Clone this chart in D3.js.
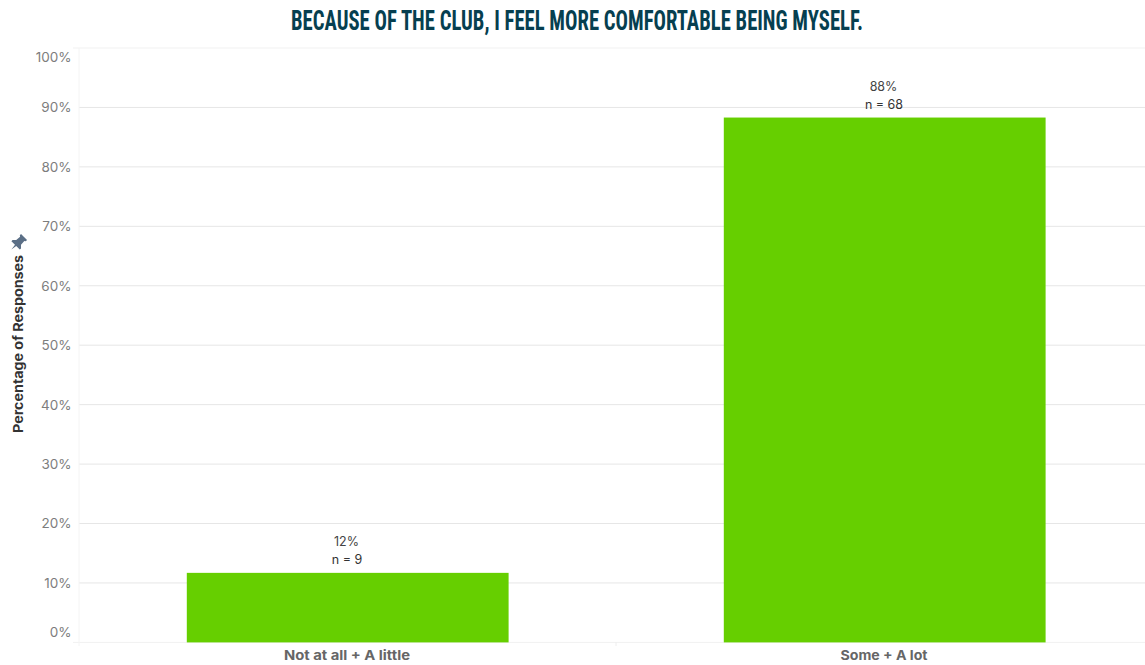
<!DOCTYPE html>
<html><head><meta charset="utf-8">
<script src="https://cdn.jsdelivr.net/npm/d3@7"></script>
<style>html,body{margin:0;padding:0;background:#fff;overflow:hidden}svg{display:block}</style>
</head><body><svg id="c" width="1145" height="665"></svg>
<script>
const titleText = "BECAUSE OF THE CLUB, I FEEL MORE COMFORTABLE BEING MYSELF.";
const axisTitle = "Percentage of Responses";
const categories = ["Not at all + A little", "Some + A lot"];
const percentValues = [11.7, 88.3];
const percentLabels = ["12%", "88%"];
const countLabels = ["n = 9", "n = 68"];
const yTicks = [0,10,20,30,40,50,60,70,80,90,100];

const svg = d3.select("#c");
const font = "Inter, Lato, sans-serif";
const x = d3.scaleBand().domain(categories).range([79,1153]).paddingInner(0.4).paddingOuter(0.2);
const y = d3.scaleLinear().domain([0,100]).range([642.4,48]);

svg.append("text").attr("x",577).attr("y",29.5).attr("text-anchor","middle")
  .attr("font-family","'Liberation Sans Narrow', 'Roboto Condensed', sans-serif").attr("font-weight",700)
  .attr("font-size",28).attr("fill","#063f50").attr("textLength",572).attr("lengthAdjust","spacingAndGlyphs").text(titleText);

svg.append("g").selectAll("line").data(yTicks).join("line")
  .attr("x1",d=>(d===0||d===100)?73:79).attr("x2",1145)
  .attr("y1",d=>y(d)).attr("y2",d=>y(d))
  .attr("stroke",d=>(d===0||d===100)?"#f1f1f1":"#e6e6e6").attr("stroke-width",1);
svg.append("line").attr("x1",79).attr("x2",79).attr("y1",48).attr("y2",646).attr("stroke","#f4f4f4");
svg.append("line").attr("x1",616).attr("x2",616).attr("y1",642).attr("y2",646).attr("stroke","#eeeeee");

svg.append("g").selectAll("text").data(yTicks).join("text")
  .attr("x",71.5).attr("text-anchor","end")
  .attr("y",d=>y(d)+(d===100?9:d===0?-10:0)).attr("dy","0.36em")
  .attr("font-family",font).attr("font-size",13.5).attr("fill","#7d7d7d")
  .text(d=>d+"%");

svg.append("g").selectAll("rect").data(categories).join("rect")
  .attr("x",d=>x(d)+0.4).attr("width",x.bandwidth()-0.4)
  .attr("y",(d,i)=>y(percentValues[i])).attr("height",(d,i)=>y(0)-y(percentValues[i]))
  .attr("fill","#66cf00");

svg.append("g").selectAll("text").data(categories).join("text")
  .attr("x",d=>x(d)+x.bandwidth()/2-1).attr("y",(d,i)=>y(percentValues[i])-26.5)
  .attr("text-anchor","middle").attr("font-family",font).attr("font-size",12.5).attr("fill","#444")
  .text((d,i)=>percentLabels[i]);
svg.append("g").selectAll("text").data(categories).join("text")
  .attr("x",d=>x(d)+x.bandwidth()/2-0.5).attr("y",(d,i)=>y(percentValues[i])-9)
  .attr("text-anchor","middle").attr("font-family",font).attr("font-size",12.5).attr("fill","#333")
  .text((d,i)=>countLabels[i]);

const catWidth = d3.scaleOrdinal().domain(categories).range([126,87]);
svg.append("g").selectAll("text").data(categories).join("text")
  .attr("x",d=>x(d)+x.bandwidth()/2-0.5).attr("y",660)
  .attr("text-anchor","middle").attr("font-family",font).attr("font-weight",700).attr("font-size",13).attr("fill","#666")
  .attr("textLength",d=>catWidth(d)).attr("lengthAdjust","spacingAndGlyphs")
  .text(d=>d);

svg.append("text").attr("transform","translate(23,344) rotate(-90)")
  .attr("text-anchor","middle").attr("font-family",font).attr("font-weight",700).attr("font-size",13).attr("fill","#333")
  .attr("textLength",178).attr("lengthAdjust","spacingAndGlyphs")
  .text(axisTitle);

svg.append("path").attr("transform","translate(18,243) rotate(45) scale(0.85)")
  .attr("d","M-5,-10 L5,-10 L5,-8 L3.5,-7 L4,-1 L7,2 L7,4 L1,4 L0,11 L-1,4 L-7,4 L-7,2 L-4,-1 L-3.5,-7 L-5,-8 Z")
  .attr("fill","#5b6f86");
</script></body></html>
